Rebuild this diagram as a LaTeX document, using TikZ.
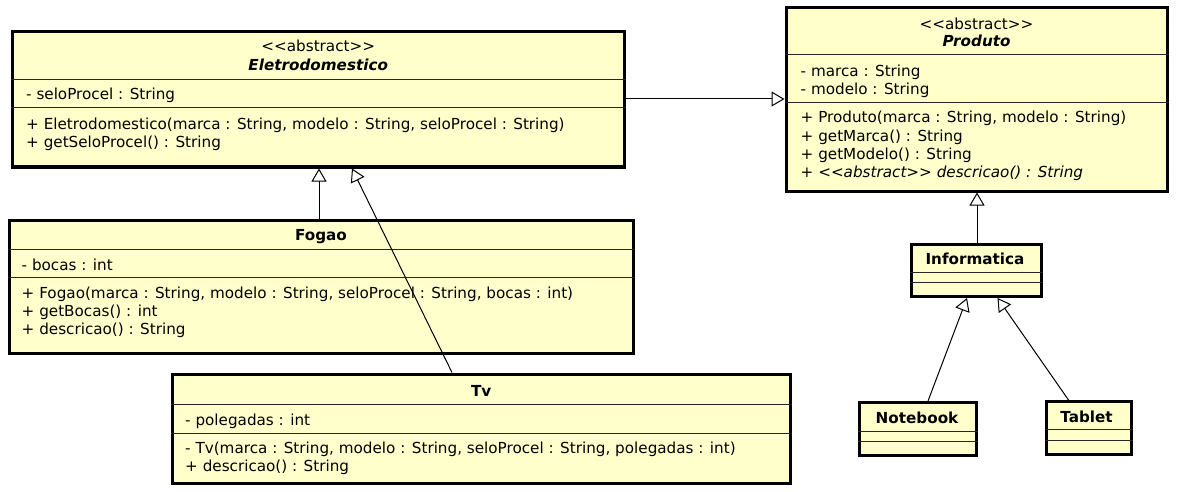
\documentclass[tikz,border=0pt]{standalone}
\usepackage{fontspec}
\setmainfont{DejaVu Sans}
\usetikzlibrary{arrows.meta}
\definecolor{umlfill}{RGB}{255,255,204}
\begin{document}
\begin{tikzpicture}[x=1pt,y=-1pt,
  cls/.style={draw=black, line width=3pt, fill=umlfill, inner sep=0pt},
  sepl/.style={line width=1pt, draw=black!85},
  txt/.style={anchor=base west, inner sep=0pt, font=\fontsize{15.2}{18}\selectfont},
  ctr/.style={anchor=base, inner sep=0pt, font=\fontsize{15.2}{18}\selectfont},
  abs/.style={ctr, font=\fontsize{15.2}{18}\selectfont\bfseries\itshape},
  bname/.style={ctr, font=\fontsize{15.2}{18}\selectfont\bfseries},
  gen/.style={line width=1pt, -{Triangle[open, length=13pt, width=15pt]}}]
\useasboundingbox (0,0) rectangle (1178,492);

% ---------- Eletrodomestico ----------
\node[cls, minimum width=611.5pt, minimum height=135.5pt] (E) at (318.25,99.25) {};
\draw[sepl] (E.west |- 0,79.5) -- (E.east |- 0,79.5);
\draw[sepl] (E.west |- 0,108) -- (E.east |- 0,108);
\node[ctr] (Est) at (318.25,52) {<{}<abstract>{}>};
\node[abs] (Enm) at (318.25,70.5) {Eletrodomestico};
\node[txt] (Ea1) at (26,100) {- seloProcel : String};
\node[txt] (Em1) at (26,130) {+ Eletrodomestico(marca : String, modelo : String, seloProcel : String)};
\node[txt] (Em2) at (26,148) {+ getSeloProcel() : String};

% ---------- Produto ----------
\node[cls, minimum width=381pt, minimum height=183pt] (P) at (976.5,99.5) {};
\draw[sepl] (P.west |- 0,55) -- (P.east |- 0,55);
\draw[sepl] (P.west |- 0,103) -- (P.east |- 0,103);
\node[ctr] (Pst) at (976.5,29.3) {<{}<abstract>{}>};
\node[abs] (Pnm) at (976.5,46.3) {Produto};
\node[txt] (Pa1) at (800.5,77) {- marca : String};
\node[txt] (Pa2) at (800.5,95) {- modelo : String};
\node[txt] (Pm1) at (800.5,123) {+ Produto(marca : String, modelo : String)};
\node[txt] (Pm2) at (800.5,141.5) {+ getMarca() : String};
\node[txt] (Pm3) at (800.5,160) {+ getModelo() : String};
\node[txt, font=\fontsize{15.2}{18}\selectfont\itshape] (Pm4) at (800.5,178) {+ <{}<abstract>{}> descricao() : String};

% ---------- Fogao ----------
\node[cls, minimum width=624pt, minimum height=133pt] (F) at (321,286.5) {};
\draw[sepl] (F.west |- 0,249) -- (F.east |- 0,249);
\draw[sepl] (F.west |- 0,277.5) -- (F.east |- 0,277.5);
\node[bname] (Fnm) at (321,240.5) {Fogao};
\node[txt] (Fa1) at (21.5,270) {- bocas : int};
\node[txt] (Fm1) at (21.5,298.5) {+ Fogao(marca : String, modelo : String, seloProcel : String, bocas : int)};
\node[txt] (Fm2) at (21.5,316.5) {+ getBocas() : int};
\node[txt] (Fm3) at (21.5,334.5) {+ descricao() : String};

% ---------- Tv ----------
\node[cls, minimum width=617.5pt, minimum height=109pt] (T) at (481.25,428.5) {};
\draw[sepl] (T.west |- 0,404) -- (T.east |- 0,404);
\draw[sepl] (T.west |- 0,433) -- (T.east |- 0,433);
\node[bname] (Tnm) at (481.25,396) {Tv};
\node[txt] (Ta1) at (185,425) {- polegadas : int};
\node[txt] (Tm1) at (185,453.5) {- Tv(marca : String, modelo : String, seloProcel : String, polegadas : int)};
\node[txt] (Tm2) at (185,471.5) {+ descricao() : String};

% ---------- Informatica ----------
\node[cls, minimum width=130pt, minimum height=52pt] (I) at (976.5,270.5) {};
\draw[sepl] (I.west |- 0,272) -- (I.east |- 0,272);
\draw[sepl] (I.west |- 0,282) -- (I.east |- 0,282);
\node[bname] (Inm) at (975,264) {Informatica};

% ---------- Notebook ----------
\node[cls, minimum width=117pt, minimum height=53pt] (N) at (918,429) {};
\draw[sepl] (N.west |- 0,431) -- (N.east |- 0,431);
\draw[sepl] (N.west |- 0,441) -- (N.east |- 0,441);
\node[bname] (Nnm) at (917,423) {Notebook};

% ---------- Tablet ----------
\node[cls, minimum width=85pt, minimum height=53pt] (Tb) at (1089,428) {};
\draw[sepl] (Tb.west |- 0,429.5) -- (Tb.east |- 0,429.5);
\draw[sepl] (Tb.west |- 0,440) -- (Tb.east |- 0,440);
\node[bname] (Tbnm) at (1086.5,422) {Tablet};

% ---------- generalizations ----------
\draw[gen] (E.east |- 0,99) -- (P.west |- 0,99);
\draw[gen] (F.north -| 319,0) -- (E.south -| 319,0);
\draw[gen] (T.north -| 452,0) -- (E.south -| 352,0);
\draw[gen] (I.north -| 977,0) -- (P.south -| 977,0);
\draw[gen] (N.north -| 928,0) -- (I.south -| 967,0);
\draw[gen] (Tb.north -| 1068.5,0) -- (I.south -| 997.5,0);
\end{tikzpicture}
\end{document}
